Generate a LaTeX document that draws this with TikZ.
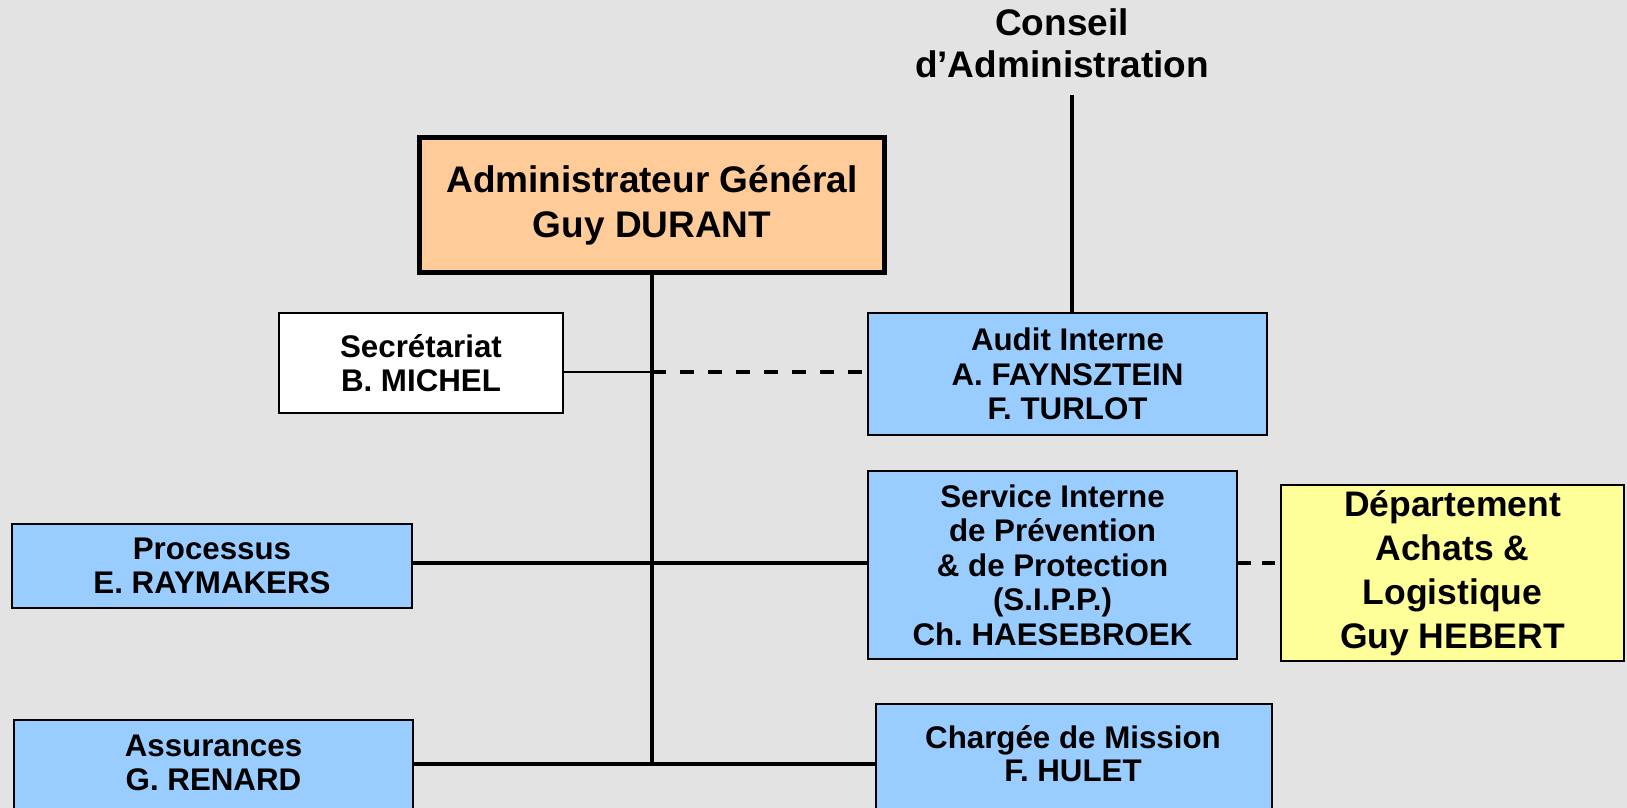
\documentclass[tikz,border=0pt]{standalone}
\usepackage{fontspec}
\setmainfont{Liberation Sans}
\frenchspacing
\definecolor{bg}{HTML}{E3E3E3}
\definecolor{bluebox}{HTML}{99CCFF}
\definecolor{orangebox}{HTML}{FFCC99}
\definecolor{yellowbox}{HTML}{FFFF99}
\begin{document}
\begin{tikzpicture}[x=1pt,y=-1pt,
  box/.style={draw=black, line width=2.5pt, inner sep=0pt, align=center, fill=bluebox,
    font=\bfseries\fontsize{31.3}{34.5}\selectfont},
  txt/.style={inner sep=0pt, align=center, font=\bfseries\fontsize{31.3}{33.5}\selectfont},
  conn/.style={line width=3.2pt, draw=black},
  thinconn/.style={line width=1.2pt, draw=black},
  dashconn/.style={line width=3.2pt, draw=black, dash pattern=on 14pt off 14pt}]
\useasboundingbox (0,0) rectangle (1627,808);
\clip (0,0) rectangle (1627,808);
\fill[bg] (0,0) rectangle (1627,808);

\node[txt, anchor=north, font=\bfseries\fontsize{37}{42}\selectfont] (conseil) at (1062,8) {Conseil\\d’Administration};
\node[box, fill=orangebox, line width=5pt, minimum width=465pt, minimum height=135pt,
  font=\bfseries\fontsize{37}{45}\selectfont] (admin) at (652,205) {Administrateur Général\\Guy DURANT};
\node[box, fill=white, minimum width=284pt, minimum height=100pt] (secr) at (421,363) {Secrétariat\\B. MICHEL};
\node[box, minimum width=399pt, minimum height=122pt] (audit) at (1067.5,374) {Audit Interne\\A. FAYNSZTEIN\\F. TURLOT};
\node[box, minimum width=400pt, minimum height=84pt] (proc) at (212,566) {Processus\\E. RAYMAKERS};
\node[box, minimum width=369pt, minimum height=188pt] (serv) at (1052.5,565) {Service Interne\\de Prévention\\ \& de Protection\\(S.I.P.P.)\\Ch.\ HAESEBROEK};
\node[box, fill=yellowbox, minimum width=343pt, minimum height=176pt,
  font=\bfseries\fontsize{35.5}{44}\selectfont] (dept) at (1452.5,573) {Département\\Achats \&\\Logistique\\Guy HEBERT};
\node[box, minimum width=399pt, minimum height=92pt] (assur) at (213.5,766) {};
\node[box, minimum width=396pt, minimum height=124pt] (charg) at (1074,766) {};
\node[txt, anchor=north] (assurT) at (213.5,735) {Assurances\\G. RENARD};
\node[txt, anchor=north] (chargT) at (1073,725) {Chargée de Mission\\F. HULET};

\coordinate (cx) at (1072,95);
\coordinate (sec) at (652,372);
\coordinate (mid) at (652,563);
\coordinate (bot) at (652,764);

\draw[conn] (cx) -- (cx |- audit.north);
\draw[conn] (admin.south) -- (bot);
\draw[thinconn] (secr.east |- sec) -- (sec);
\draw[dashconn] (sec) -- (audit.west |- sec);
\draw[conn] (proc.east |- mid) -- (serv.west |- mid);
\draw[line width=3.2pt, draw=black, dash pattern=on 13pt off 11pt] (serv.east |- mid) -- (dept.west |- mid);
\draw[conn] (assur.east |- bot) -- (charg.west |- bot);
\end{tikzpicture}
\end{document}
